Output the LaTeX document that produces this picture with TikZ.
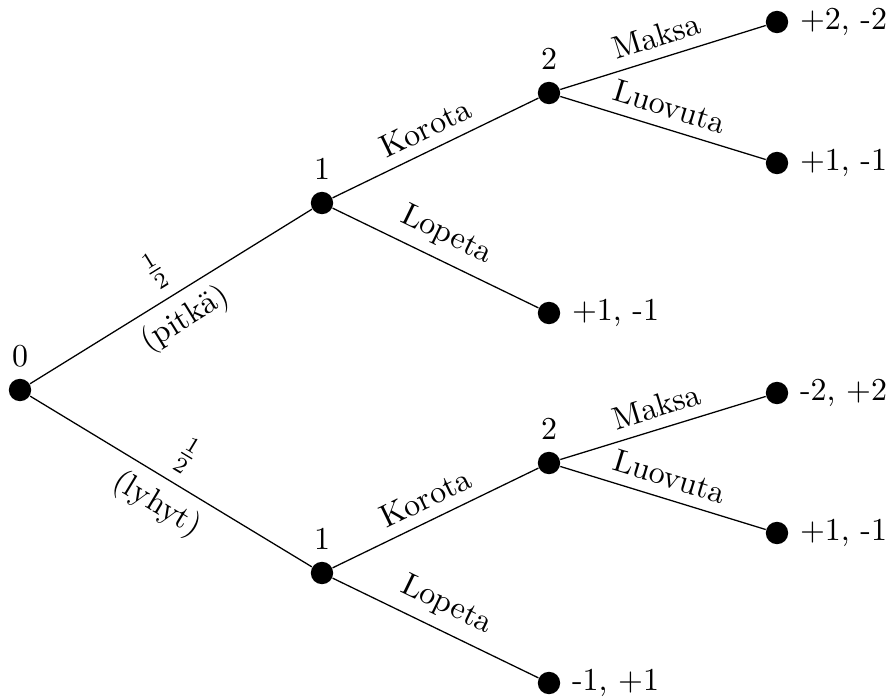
\documentclass[tikz,border=0pt]{standalone}
\usepackage{fontspec}
\begin{document}
\begin{tikzpicture}[x=0.313pt,y=-0.313pt,
  dot/.style={circle,fill=black,inner sep=0pt,minimum size=7pt},
  lab/.style={midway,sloped,above},
  labb/.style={midway,sloped,below},
  edge/.style={line width=0.4pt}]
\useasboundingbox (0,0) rectangle (887,700);
\node[dot,label=above:0] (r) at (20,390) {};
\node[dot,label=above:1] (a1) at (322,203) {};
\node[dot,label=above:1] (b1) at (322,573) {};
\node[dot,label=above:2] (a2) at (549,93) {};
\node[dot,label=right:{+1, -1}] (al) at (549,313) {};
\node[dot,label=above:2] (b2) at (549,463) {};
\node[dot,label=right:{-1, +1}] (bl) at (549,683) {};
\node[dot,label=right:{+2, -2}] (a3) at (777,22) {};
\node[dot,label=right:{+1, -1}] (a4) at (777,163) {};
\node[dot,label=right:{-2, +2}] (b3) at (777,393) {};
\node[dot,label=right:{+1, -1}] (b4) at (777,533) {};
\draw[edge] (r) -- node[lab]{$\frac{1}{2}$} node[labb]{(pitkä)} (a1);
\draw[edge] (r) -- node[lab]{$\frac{1}{2}$} node[labb]{(lyhyt)} (b1);
\draw[edge] (a1) -- node[lab]{Korota} (a2);
\draw[edge] (a1) -- node[lab]{Lopeta} (al);
\draw[edge] (b1) -- node[lab]{Korota} (b2);
\draw[edge] (b1) -- node[lab]{Lopeta} (bl);
\draw[edge] (a2) -- node[lab]{Maksa} (a3);
\draw[edge] (a2) -- node[lab]{Luovuta} (a4);
\draw[edge] (b2) -- node[lab]{Maksa} (b3);
\draw[edge] (b2) -- node[lab]{Luovuta} (b4);
\end{tikzpicture}
\end{document}
